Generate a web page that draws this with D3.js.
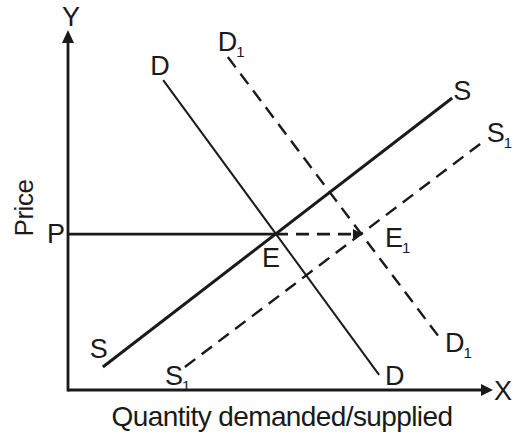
<!DOCTYPE html>
<html>
<head>
<meta charset="utf-8">
<script src="https://cdn.jsdelivr.net/npm/d3@7"></script>
<style>
  body { margin: 0; background: #fff; }
  svg text { font-family: "Liberation Sans", Arial, sans-serif; fill: #1a1a1a; }
</style>
</head>
<body>
<div id="wrapper"></div>
<script>
// curve end points, in chart units (quantity 0-100, price 0-100)
const demandD = [[22.4, 86.1], [73.2, 4.2]];
const demandD1 = [[37.6, 92.5], [87.5, 14.4]];
const supplyS = [[8.2, 6.4], [90.4, 81.1]];
const supplyS1 = [[27.5, 6.4], [97.6, 68.9]];
const priceP = 43.3;
const qtyE = 48.7;
const qtyE1 = 69.4;
const axisNames = ["X", "Y"];
const axisTitles = ["Quantity demanded/supplied", "Price"];

function draw() {
    // 1. Chart dimensions
    let dimensions = {
        width: 518,
        height: 434,
        margin: { top: 30, right: 25, bottom: 44, left: 68 },
    };
    dimensions.boundedWidth = dimensions.width - dimensions.margin.left - dimensions.margin.right;
    dimensions.boundedHeight = dimensions.height - dimensions.margin.top - dimensions.margin.bottom;

    const svg = d3.select("#wrapper")
        .append("svg")
        .attr("width", dimensions.width)
        .attr("height", dimensions.height);

    // 2. Scales
    const xScale = d3.scaleLinear()
        .domain([0, 100])
        .range([dimensions.margin.left, dimensions.margin.left + dimensions.boundedWidth]);
    const yScale = d3.scaleLinear()
        .domain([0, 100])
        .range([dimensions.margin.top + dimensions.boundedHeight, dimensions.margin.top]);

    const line = d3.line()
        .x(d => xScale(d[0]))
        .y(d => yScale(d[1]));

    const dash = "13,8";

    // 3. Axes
    const x0 = xScale(0), y0 = yScale(0);
    const xEnd = xScale(100), yEnd = yScale(100);
    svg.append("line")
        .attr("x1", x0).attr("y1", y0)
        .attr("x2", xEnd - 8).attr("y2", y0)
        .attr("stroke", "#1a1a1a").attr("stroke-width", 2.8);
    svg.append("line")
        .attr("x1", x0).attr("y1", y0 + 1.4)
        .attr("x2", x0).attr("y2", yEnd + 8)
        .attr("stroke", "#1a1a1a").attr("stroke-width", 2.8);
    svg.append("path")
        .attr("d", `M${xEnd},${y0} L${xEnd - 12},${y0 - 6} L${xEnd - 12},${y0 + 6} Z`)
        .attr("fill", "#1a1a1a");
    svg.append("path")
        .attr("d", `M${x0},${yEnd} L${x0 - 6},${yEnd + 13} L${x0 + 6},${yEnd + 13} Z`)
        .attr("fill", "#1a1a1a");

    // 4. Price line P -> E (solid) and E -> E1 (dashed with arrow)
    svg.append("line")
        .attr("x1", x0).attr("y1", yScale(priceP))
        .attr("x2", xScale(qtyE)).attr("y2", yScale(priceP))
        .attr("stroke", "#1a1a1a").attr("stroke-width", 2.8);
    svg.append("line")
        .attr("x1", xScale(qtyE)).attr("y1", yScale(priceP))
        .attr("x2", xScale(qtyE1) - 4).attr("y2", yScale(priceP))
        .attr("stroke", "#1a1a1a").attr("stroke-width", 2.6)
        .attr("stroke-dasharray", dash);
    const ax = xScale(qtyE1), ay = yScale(priceP);
    svg.append("path")
        .attr("d", `M${ax},${ay} L${ax - 10},${ay - 5} L${ax - 10},${ay + 5} Z`)
        .attr("fill", "#1a1a1a");

    // 5. Curves
    const curves = [
        { pts: demandD, width: 2, dash: null },
        { pts: demandD1, width: 2.4, dash: dash },
        { pts: supplyS, width: 3, dash: null },
        { pts: supplyS1, width: 2.4, dash: dash },
    ];
    svg.selectAll(".curve")
        .data(curves)
        .enter()
        .append("path")
        .attr("class", "curve")
        .attr("d", d => line(d.pts))
        .attr("fill", "none")
        .attr("stroke", "#1a1a1a")
        .attr("stroke-width", d => d.width)
        .attr("stroke-dasharray", d => d.dash);

    // 6. Labels
    const fontSize = 27;
    function label(text, sub, px, py) {
        const t = svg.append("text")
            .attr("x", px).attr("y", py)
            .style("font-size", `${fontSize}px`)
            .text(text);
        if (sub) {
            t.append("tspan")
                .attr("dx", -1).attr("dy", 6)
                .style("font-size", "15px")
                .text(sub);
        }
        return t;
    }
    const pt = p => [xScale(p[0]), yScale(p[1])];

    let p = pt(demandD[0]); label("D", null, p[0] - 13, p[1] - 5);
    p = pt(demandD[1]); label("D", null, p[0] + 6, p[1] + 10);
    p = pt(demandD1[0]); label("D", "1", p[0] - 10, p[1] - 6);
    p = pt(demandD1[1]); label("D", "1", p[0] + 5, p[1] + 14);
    p = pt(supplyS[0]); label("S", null, p[0] - 13, p[1] - 9);
    p = pt(supplyS[1]); label("S", null, p[0] + 1, p[1] + 2);
    p = pt(supplyS1[0]); label("S", "1", p[0] - 20, p[1] + 18);
    p = pt(supplyS1[1]); label("S", "1", p[0] + 4, p[1]);

    label("P", null, x0 - 21, yScale(priceP) + 9);
    label("E", null, xScale(qtyE) - 13, yScale(priceP) + 33);
    label("E", "1", xScale(qtyE1) + 22, yScale(priceP) + 13);

    // axis names
    label(axisNames[0], null, xEnd + 1, y0 + 10);
    svg.append("text")
        .attr("x", x0 + 3).attr("y", yEnd - 4)
        .attr("text-anchor", "middle")
        .style("font-size", `${fontSize}px`)
        .text(axisNames[1]);

    // axis titles
    svg.append("text")
        .attr("x", 282).attr("y", y0 + 36)
        .attr("text-anchor", "middle")
        .style("font-size", "28px")
        .style("letter-spacing", "-0.6px")
        .text(axisTitles[0]);
    svg.append("text")
        .attr("transform", `translate(33,${208}) rotate(-90)`)
        .attr("text-anchor", "middle")
        .style("font-size", "26px")
        .style("letter-spacing", "-0.5px")
        .text(axisTitles[1]);
}

draw();
</script>
</body>
</html>
